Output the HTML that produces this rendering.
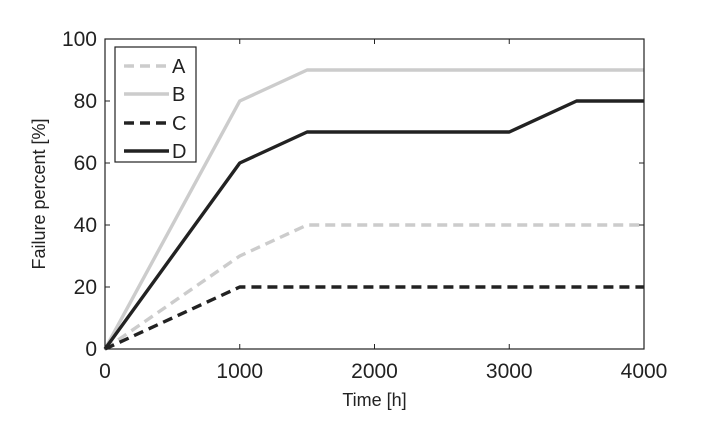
<!DOCTYPE html>
<html><head><meta charset="utf-8"><style>body{margin:0;background:#fff}</style></head><body>
<svg width="713" height="418" xmlns="http://www.w3.org/2000/svg" font-family="Liberation Sans, sans-serif">
<rect width="713" height="418" fill="#fff"/>
<g fill="none" stroke-width="3.4" stroke-linejoin="round">
<polyline points="105,349 239.75,256 307.1,225 644,225" stroke="#cccccc" stroke-dasharray="10,6"/>
<polyline points="105,349 239.75,101 307.1,70 644,70" stroke="#cccccc"/>
<polyline points="105,349 239.75,287 644,287" stroke="#222" stroke-dasharray="10,6"/>
<polyline points="105,349 239.75,163 307.1,132 509.25,132 576.6,101 644,101" stroke="#222"/>
</g>
<rect x="105" y="39" width="539" height="310" fill="none" stroke="#222" stroke-width="1.2"/>
<g stroke="#222" stroke-width="1">
<line x1="239.75" y1="349" x2="239.75" y2="344"/><line x1="374.5" y1="349" x2="374.5" y2="344"/><line x1="509.25" y1="349" x2="509.25" y2="344"/>
<line x1="239.75" y1="39" x2="239.75" y2="44"/><line x1="374.5" y1="39" x2="374.5" y2="44"/><line x1="509.25" y1="39" x2="509.25" y2="44"/>
<line x1="105" y1="287" x2="110" y2="287"/><line x1="105" y1="225" x2="110" y2="225"/><line x1="105" y1="163" x2="110" y2="163"/><line x1="105" y1="101" x2="110" y2="101"/>
<line x1="644" y1="287" x2="639" y2="287"/><line x1="644" y1="225" x2="639" y2="225"/><line x1="644" y1="163" x2="639" y2="163"/><line x1="644" y1="101" x2="639" y2="101"/>
</g>
<g font-size="21" fill="#222" text-anchor="end">
<text x="97" y="356">0</text><text x="97" y="294">20</text><text x="97" y="232">40</text><text x="97" y="170">60</text><text x="97" y="108">80</text><text x="97" y="46">100</text>
</g>
<g font-size="21" fill="#222" text-anchor="middle">
<text x="105" y="378">0</text><text x="239.75" y="378">1000</text><text x="374.5" y="378">2000</text><text x="509.25" y="378">3000</text><text x="644" y="378">4000</text>
<text x="374.5" y="406" font-size="18">Time [h]</text>
<text transform="translate(45,194) rotate(-90)" font-size="18">Failure percent [%]</text>
</g>
<rect x="115" y="47" width="81" height="115" fill="#fff" stroke="#222" stroke-width="1.2"/>
<g stroke-width="3.4">
<line x1="124" y1="66" x2="169" y2="66" stroke="#ccc" stroke-dasharray="10,6"/>
<line x1="124" y1="94" x2="169" y2="94" stroke="#ccc"/>
<line x1="124" y1="123" x2="169" y2="123" stroke="#222" stroke-dasharray="10,6"/>
<line x1="124" y1="151" x2="169" y2="151" stroke="#222"/>
</g>
<g font-size="20" fill="#222">
<text x="172" y="73">A</text><text x="172" y="101">B</text><text x="172" y="130">C</text><text x="172" y="158">D</text>
</g>
</svg>
</body></html>
